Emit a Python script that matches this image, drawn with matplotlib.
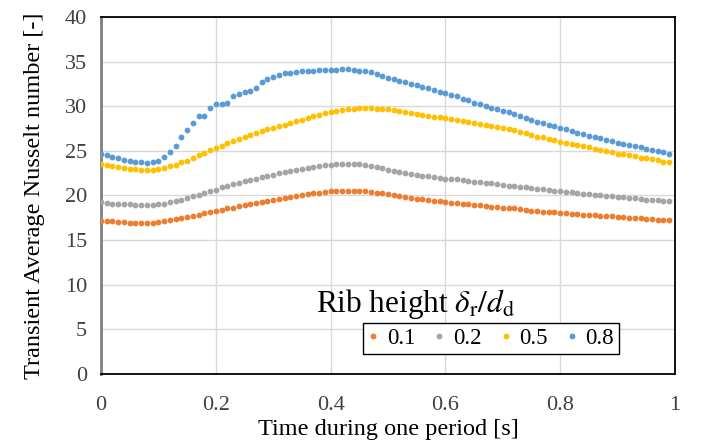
import numpy as np
import matplotlib
matplotlib.use("Agg")
import matplotlib.pyplot as plt
from matplotlib.lines import Line2D

plt.rcParams['font.family'] = ['Liberation Serif', 'DejaVu Serif']
plt.rcParams['mathtext.fontset'] = 'stix'

# Time samples over one period (0.00 ... 0.99 s)
time = np.arange(100) / 100.0

labels = ["0.1", "0.2", "0.5", "0.8"]
colors = ["#ED7D31", "#A5A5A5", "#FFC000", "#5B9BD5"]

nu_01 = [
    17.15, 17.1, 17.1, 17.05, 17.0, 16.95, 16.9, 16.9, 16.9, 16.9,
    17.0, 17.1, 17.2, 17.35, 17.45, 17.6, 17.7, 17.85, 18.0, 18.1,
    18.25, 18.4, 18.55, 18.65, 18.8, 18.9, 19.05, 19.2, 19.3, 19.4,
    19.55, 19.65, 19.75, 19.8, 19.95, 20.05, 20.15, 20.25, 20.3, 20.35,
    20.45, 20.45, 20.5, 20.55, 20.55, 20.5, 20.45, 20.4, 20.3, 20.25,
    20.15, 20.0, 19.9, 19.8, 19.7, 19.65, 19.6, 19.5, 19.4, 19.35,
    19.3, 19.2, 19.15, 19.1, 19.0, 18.95, 18.9, 18.85, 18.75, 18.7,
    18.65, 18.55, 18.55, 18.45, 18.4, 18.3, 18.25, 18.2, 18.15, 18.1,
    18.05, 18.0, 17.95, 17.9, 17.85, 17.85, 17.8, 17.75, 17.7, 17.65,
    17.6, 17.55, 17.5, 17.5, 17.45, 17.4, 17.35, 17.3, 17.25, 17.2,
]

nu_02 = [
    19.25, 19.15, 19.1, 19.1, 19.0, 19.0, 18.95, 18.9, 18.9, 18.95,
    19.0, 19.1, 19.25, 19.4, 19.55, 19.7, 19.9, 20.1, 20.3, 20.45,
    20.65, 20.9, 21.05, 21.25, 21.4, 21.6, 21.75, 21.9, 22.05, 22.2,
    22.35, 22.5, 22.6, 22.75, 22.85, 22.95, 23.1, 23.2, 23.3, 23.4,
    23.45, 23.5, 23.55, 23.55, 23.55, 23.5, 23.45, 23.35, 23.2, 23.1,
    22.9, 22.75, 22.6, 22.5, 22.4, 22.3, 22.2, 22.15, 22.05, 22.0,
    21.9, 21.85, 21.8, 21.7, 21.6, 21.55, 21.5, 21.4, 21.35, 21.25,
    21.2, 21.1, 21.05, 20.95, 20.9, 20.8, 20.75, 20.7, 20.6, 20.55,
    20.45, 20.4, 20.35, 20.3, 20.2, 20.15, 20.1, 20.0, 19.95, 19.9,
    19.85, 19.8, 19.75, 19.7, 19.6, 19.55, 19.5, 19.45, 19.4, 19.35,
]

nu_05 = [
    23.55, 23.45, 23.3, 23.2, 23.1, 23.0, 22.95, 22.9, 22.9, 22.9,
    22.95, 23.1, 23.25, 23.45, 23.7, 23.9, 24.2, 24.5, 24.75, 25.05,
    25.3, 25.6, 25.85, 26.1, 26.35, 26.55, 26.8, 27.0, 27.2, 27.4,
    27.6, 27.8, 27.95, 28.15, 28.35, 28.5, 28.7, 28.9, 29.05, 29.2,
    29.35, 29.45, 29.55, 29.7, 29.7, 29.75, 29.75, 29.75, 29.7, 29.7,
    29.65, 29.55, 29.45, 29.3, 29.2, 29.1, 29.0, 28.95, 28.85, 28.8,
    28.7, 28.55, 28.5, 28.35, 28.25, 28.15, 28.05, 27.9, 27.75, 27.65,
    27.55, 27.4, 27.3, 27.15, 27.0, 26.8, 26.6, 26.5, 26.3, 26.2,
    26.05, 25.9, 25.8, 25.65, 25.5, 25.4, 25.25, 25.15, 25.0, 24.85,
    24.7, 24.6, 24.5, 24.4, 24.25, 24.15, 24.05, 23.95, 23.8, 23.7,
]

nu_08 = [
    24.6, 24.5, 24.35, 24.2, 24.0, 23.9, 23.75, 23.7, 23.65, 23.75,
    23.9, 24.3, 24.9, 25.6, 26.5, 27.3, 28.15, 28.9, 28.9, 29.8,
    30.2, 30.2, 30.4, 31.1, 31.4, 31.6, 31.7, 32.1, 32.7, 33.0,
    33.3, 33.5, 33.7, 33.75, 33.8, 33.9, 33.95, 34.0, 34.05, 34.1,
    34.1, 34.1, 34.15, 34.15, 34.1, 33.95, 33.9, 33.8, 33.6, 33.4,
    33.2, 33.0, 32.85, 32.7, 32.5, 32.35, 32.2, 32.0, 31.85, 31.65,
    31.45, 31.3, 31.2, 30.85, 30.65, 30.4, 30.2, 30.05, 29.85, 29.7,
    29.45, 29.3, 29.1, 28.9, 28.7, 28.5, 28.25, 28.1, 27.9, 27.75,
    27.6, 27.4, 27.2, 27.05, 26.9, 26.7, 26.55, 26.4, 26.25, 26.1,
    25.9, 25.8, 25.65, 25.55, 25.4, 25.25, 25.15, 25.0, 24.85, 24.7,
]

series = [nu_01, nu_02, nu_05, nu_08]

x_ticks = [0, 0.2, 0.4, 0.6, 0.8, 1.0]
x_tick_labels = ["0", "0.2", "0.4", "0.6", "0.8", "1"]
y_ticks = list(range(0, 41, 5))

fig = plt.figure(figsize=(7.02, 4.44), dpi=100)
ax = fig.add_axes([0.1439, 0.1577, 0.8176, 0.804])

for vals, c, lab in zip(series, colors, labels):
    ax.plot(time, vals, linestyle="none", marker="o", ms=4.2,
            color=c, markeredgewidth=0, label=lab, zorder=3)

ax.set_xlim(0, 1)
ax.set_ylim(0, 40)
ax.set_xticks(x_ticks)
ax.set_xticklabels(x_tick_labels)
ax.set_yticks(y_ticks)
ax.grid(True, color="#d9d9d9", linewidth=1.0, zorder=0)
ax.set_axisbelow(True)
ax.tick_params(axis="both", length=0, labelsize=16, colors="#404040")
ax.tick_params(axis="x", pad=16)
ax.tick_params(axis="y", pad=10)

for side in ["top", "right", "bottom"]:
    ax.spines[side].set_color("black")
    ax.spines[side].set_linewidth(1.3)
ax.spines["left"].set_color("#7f7f7f")
ax.spines["left"].set_linewidth(2.0)

ax.set_xlabel("Time during one period [s]", fontsize=17.5, labelpad=3)
ax.set_ylabel("Transient Average Nusselt number [-]", fontsize=17.5,
              labelpad=14)

# Legend title drawn above the framed legend
ax.text(0.548, 0.1745, r"Rib height $\delta_\mathrm{r}/d_\mathrm{d}$",
        transform=ax.transAxes, fontsize=22.5, ha="center", va="baseline")

handles = [Line2D([], [], linestyle="none", marker="o", ms=4.2,
                  color=c, markeredgewidth=0) for c in colors]
leg = ax.legend(handles, labels, loc="center",
                bbox_to_anchor=(0.679, 0.0994), ncol=4, fontsize=16.5,
                frameon=True, fancybox=False, handlelength=0.5,
                handletextpad=0.35, columnspacing=0.8, borderpad=0.2,
                borderaxespad=0)
leg.get_frame().set_edgecolor("black")
leg.get_frame().set_linewidth(1.0)
leg.get_frame().set_alpha(1.0)

fig.savefig("out.png", dpi=100)
